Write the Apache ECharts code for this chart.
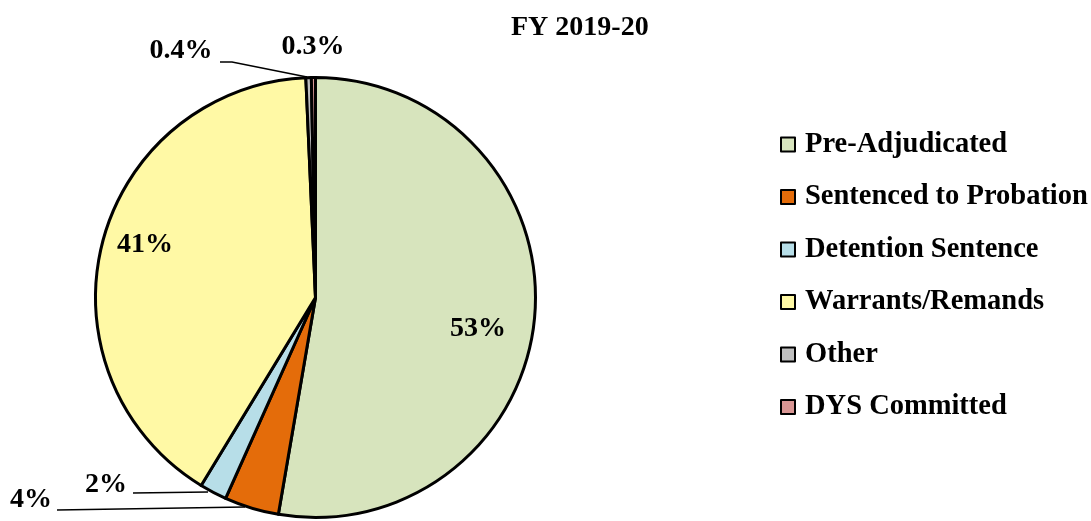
<!DOCTYPE html>
<html><head><meta charset="utf-8">
<script src="https://cdn.jsdelivr.net/npm/echarts@6/dist/echarts.min.js"></script>
<style>html,body{margin:0;padding:0;background:#fff}#c{width:1091px;height:521px}</style>
</head><body><div id="c"></div>
<script>
const titleText = 'FY 2019-20';
const categories = ['Pre-Adjudicated','Sentenced to Probation','Detention Sentence','Warrants/Remands','Other','DYS Committed'];
const values = [52.7, 4.0, 2.0, 40.6, 0.4, 0.3];
const colors = ['#d7e4bd','#e46c0a','#b7dee8','#fff9a5','#bfbfbf','#d99694'];
const showLine = [false, true, true, false, true, false];

// label anchor positions (label placement only)
const labelPos = [[478,329],[31,500],[106,485],[145,245],[181,51],[313,47]];
const linePts = [null,
  [[57,510],[245,507]],
  [[133,493],[208,492]],
  null,
  [[220,62],[232,62],[307,77]],
  null];

const font = '"Liberation Serif", "Times New Roman", serif';
const chart = echarts.init(document.getElementById('c'));
chart.setOption({
  animation: false,
  title: { text: titleText, left: 506, top: 9,
    textStyle: { fontFamily: font, fontWeight: 'bold', fontSize: 28, color: '#000' } },
  legend: {
    orient: 'vertical', left: 775, top: 125,
    itemWidth: 14, itemHeight: 14, itemGap: 23.5, icon: 'rect',
    itemStyle: { borderColor: '#000', borderWidth: 2 },
    textStyle: { fontFamily: font, fontWeight: 'bold', fontSize: 28.5, color: '#000', lineHeight: 28, padding: [0,0,0,5] },
    data: categories
  },
  series: [{
    type: 'pie',
    center: [315.5, 297.5], radius: 220,
    startAngle: 90, clockwise: true,
    avoidLabelOverlap: false,
    itemStyle: { borderColor: '#000', borderWidth: 3 },
    label: {
      show: true, position: 'outside', color: '#000',
      fontFamily: font, fontWeight: 'bold', fontSize: 28,
      formatter: p => (p.value < 1 ? p.value.toFixed(1) : Math.round(p.value)) + '%'
    },
    labelLine: { show: true, lineStyle: { color: '#000', width: 1.5 } },
    labelLayout: p => {
      const i = p.dataIndex;
      const o = { x: labelPos[i][0], y: labelPos[i][1], align: 'center', verticalAlign: 'middle' };
      if (linePts[i]) o.labelLinePoints = linePts[i];
      return o;
    },
    data: categories.map((n, i) => ({
      name: n, value: values[i],
      itemStyle: { color: colors[i] },
      labelLine: { show: showLine[i] }
    }))
  }]
});
</script></body></html>
